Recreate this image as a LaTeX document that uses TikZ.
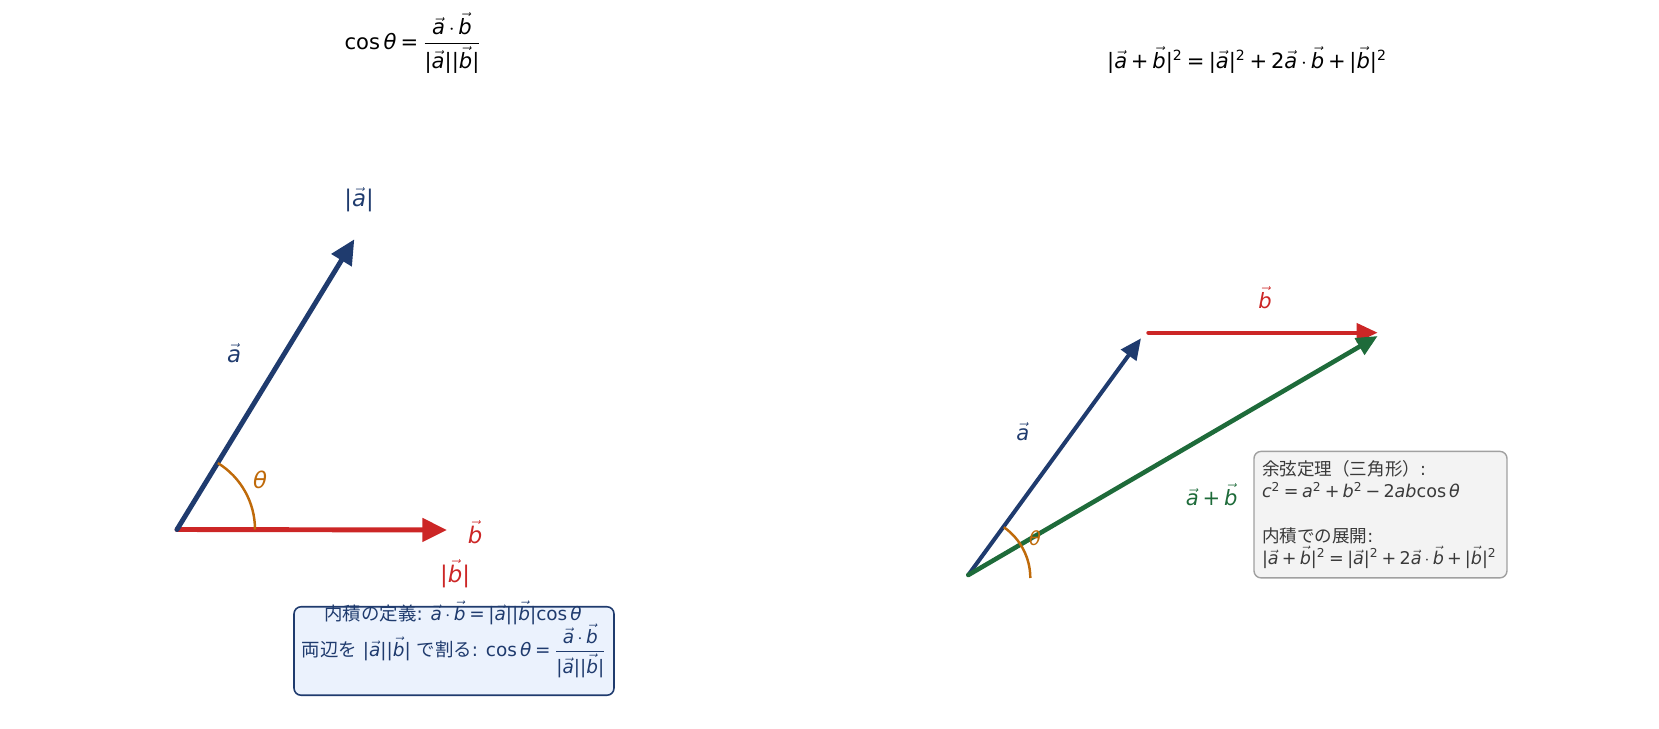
\documentclass[tikz,border=0pt]{standalone}
\usepackage{fontspec}
\setmainfont{DejaVu Sans}
\newfontfamily\jp{Noto Sans CJK JP}
\usetikzlibrary{arrows.meta,calc}
\definecolor{navy}{HTML}{1F3B6E}
\definecolor{vred}{HTML}{CC2626}
\definecolor{vgreen}{HTML}{1E6B3A}
\definecolor{vorange}{HTML}{BF6A0A}
\definecolor{boxblue}{HTML}{EBF2FD}
\definecolor{boxgray}{HTML}{F3F3F3}
\definecolor{boxedge}{HTML}{A0A0A0}
\definecolor{txtgray}{HTML}{3A3A3A}
\newcommand{\va}{\ensuremath{\vec{\mbox{\itshape a}}}}
\newcommand{\vb}{\ensuremath{\vec{\mbox{\itshape b}}}}
\newcommand{\thet}{\textit{θ}}
\newcommand{\sq}{\textsuperscript{2}}
\newcommand{\eqs}{\hspace{0.2em}=\hspace{0.2em}}
\newcommand{\pls}{\hspace{0.18em}+\hspace{0.18em}}
\newcommand{\mns}{\hspace{0.18em}−\hspace{0.18em}}
\newcommand{\dt}{\hspace{0.18em}$\cdot$\hspace{0.18em}}
\tikzset{
  vecL/.style={line width=2.8pt, line cap=round, -{Triangle[length=14pt,width=13pt]}},
  vecR/.style={line width=2.3pt, line cap=round, -{Triangle[length=12pt,width=10.5pt]}},
  anglearc/.style={line width=1.4pt, vorange},
  lbl/.style={font=\fontsize{13}{15}\selectfont},
  lblR/.style={font=\fontsize{12}{14}\selectfont},
  ttl/.style={font=\fontsize{12}{14}\selectfont, text=black},
}
\begin{document}
\begin{tikzpicture}[x=0.02cm,y=-0.02cm]
\useasboundingbox (0,0) rectangle (1659,729);
% titles
\node[ttl] (t1) at (413,43) {cos\,\thet\eqs$\displaystyle\frac{\mbox{\va\dt\vb}}{\mbox{|\va||\vb|}}$};
\node[ttl] (t2) at (1247,60) {|\va\pls\vb|\sq\eqs|\va|\sq\pls2\va\dt\vb\pls|\vb|\sq};

% left diagram
\coordinate (O1) at (177,529.5);
\coordinate (A1) at (354.3,239.3);
\coordinate (B1) at (447,530);
\draw[vecL, vred] (O1) -- (B1);
\draw[vecL, navy] (O1) -- (A1);
\draw[anglearc] ($(O1)+(78,0)$) arc[start angle=0, end angle=58.4, radius=1.56cm];
\node[lbl, text=navy] (la1) at (359,200) {|\va|};
\node[lbl, text=navy] (la2) at (234,353) {\va};
\node[lbl, text=vorange] (lth1) at (260,480) {\thet};
\node[lbl, text=vred] (lb1) at (475,532) {\vb};
\node[lbl, text=vred] (lb2) at (455,574) {|\vb|};

% left box
\node[draw=navy, line width=0.9pt, fill=boxblue, rounded corners=4pt,
      minimum width=6.4cm, minimum height=1.77cm, text=navy,
      font=\fontsize{10.5}{13}\selectfont] (lbox) at (454,651)
  {\raisebox{-0.6ex}{{\jp 両辺を} |\va||\vb| {\jp で割る}: cos\,\thet\eqs$\displaystyle\frac{\mbox{\va\dt\vb}}{\mbox{|\va||\vb|}}$}};
\node[text=navy, font=\fontsize{10.5}{13}\selectfont] (lline1) at (453,613)
  {{\jp 内積の定義}: \va\dt\vb\eqs|\va||\vb|cos\,\thet};

% right diagram
\coordinate (O2) at (968.3,575);
\coordinate (A2) at (1141,338.3);
\coordinate (B2s) at (1148.3,332.7);
\coordinate (B2) at (1377.7,332.7);
\coordinate (C2) at (1377.7,336);
\draw[vecR, vred] (B2s) -- (B2);
\draw[vecR, navy] (O2) -- (A2);
\draw[vecR, vgreen, line width=2.6pt] (O2) -- (C2);
\draw[anglearc] ($(O2)+(62,3)$) arc[start angle=0, end angle=55, radius=1.24cm];
\node[lblR, text=vred] (rb) at (1265,298) {\vb};
\node[lblR, text=navy] (ra) at (1022.7,431.7) {\va};
\node[lblR, text=vgreen] (rab) at (1211.7,495) {\va\pls\vb};
\node[text=vorange, font=\fontsize{11}{13}\selectfont] (rth) at (1035,538) {\thet};

% right box
\node[draw=boxedge, line width=0.8pt, fill=boxgray, rounded corners=4pt,
      anchor=north west, inner xsep=0.16cm, inner ysep=0.1cm,
      text width=4.74cm, minimum height=2.53cm, align=left, text=txtgray,
      font=\fontsize{10}{12.6}\selectfont] (rbox) at (1253.3,450.7)
  {{\jp 余弦定理（三角形）}:\\
   \textit{c}\sq\eqs\textit{a}\sq\pls\textit{b}\sq\mns2\textit{ab}cos\,\thet\\[12.6pt]
   {\jp 内積での展開}:\\
   |\va\pls\vb|\sq\eqs|\va|\sq\pls2\va\dt\vb\pls|\vb|\sq};
\end{tikzpicture}
\end{document}
